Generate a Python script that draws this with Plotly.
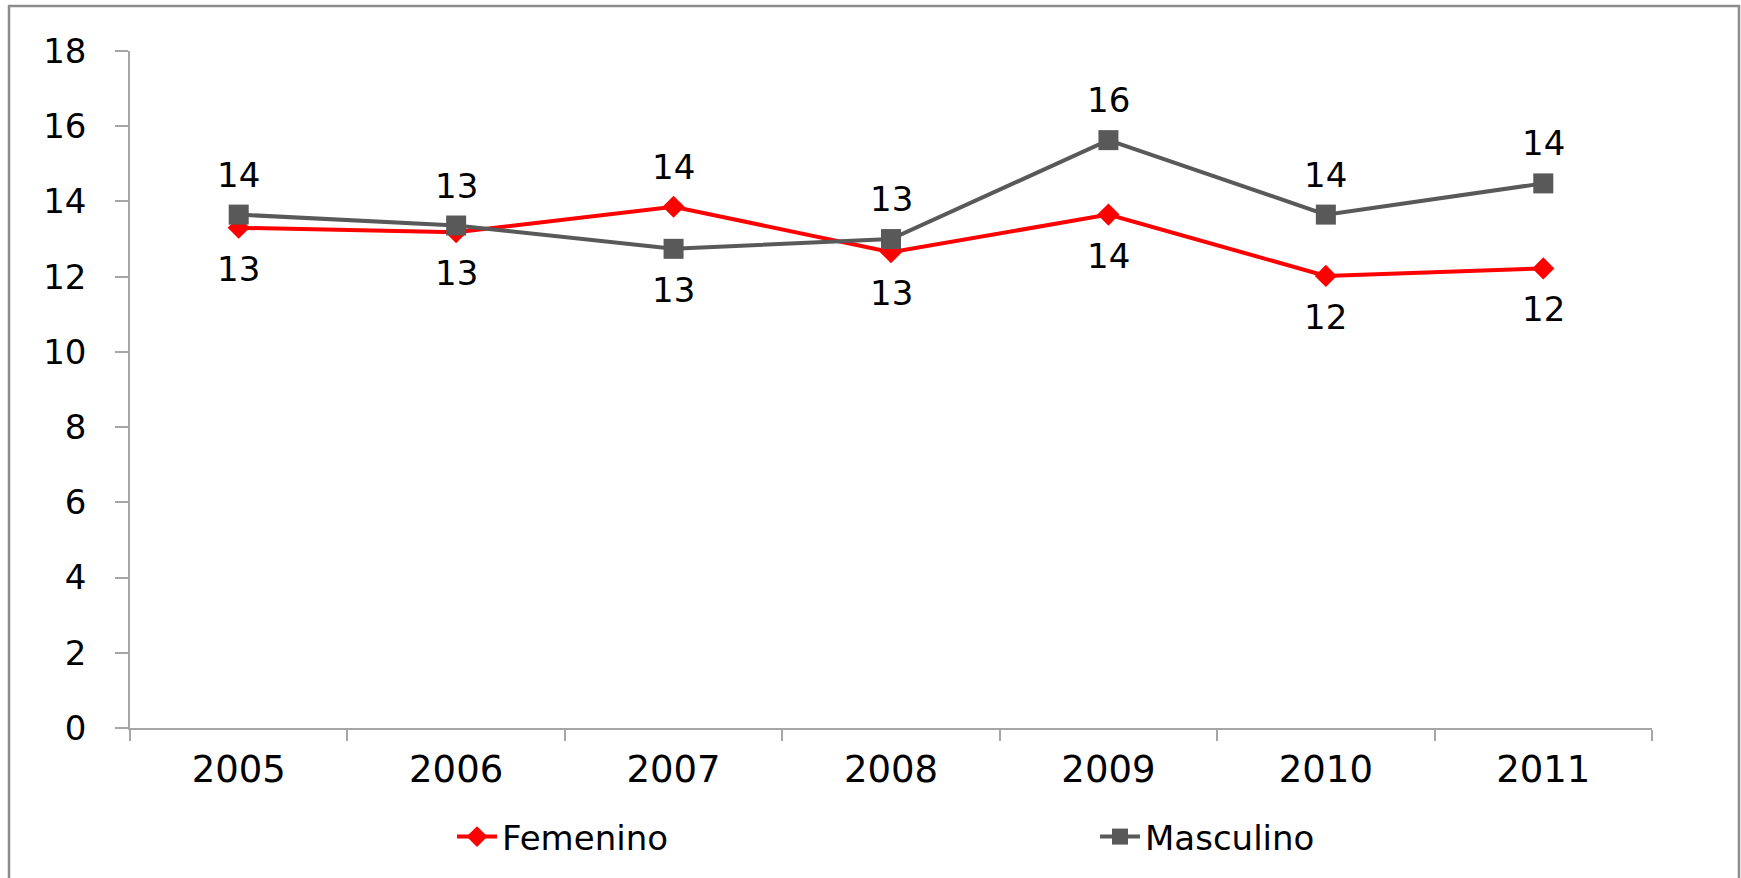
import plotly.graph_objects as go

years = ["2005", "2006", "2007", "2008", "2009", "2010", "2011"]
femenino = [13.30, 13.18, 13.86, 12.65, 13.65, 12.02, 12.22]
masculino = [13.65, 13.36, 12.74, 13.00, 15.63, 13.65, 14.48]
y_ticks = [0, 2, 4, 6, 8, 10, 12, 14, 16, 18]

W, H = 1741, 878
ML, MR, MT, MB = 130, 89, 51, 150
PW, PH = W - ML - MR, H - MT - MB

FONT = "DejaVu Sans, Liberation Sans, Arial, sans-serif"
RED = "#FF0000"
GRAY = "#595959"
AXIS = "#A6A6A6"

fig = go.Figure()
fig.add_trace(go.Scatter(
    x=years, y=femenino, name="Femenino", mode="lines+markers",
    line=dict(color=RED, width=4),
    marker=dict(symbol="diamond", size=17, color=RED),
))
fig.add_trace(go.Scatter(
    x=years, y=masculino, name="Masculino", mode="lines+markers",
    line=dict(color=GRAY, width=4),
    marker=dict(symbol="square", size=20, color=GRAY),
))

# data labels: the higher series of each year is labelled above, the lower below
for i, yr in enumerate(years):
    f, m = femenino[i], masculino[i]
    for v, other in ((f, m), (m, f)):
        up = v >= other
        fig.add_annotation(
            x=i, y=v, xref="x", yref="y", text=str(round(v)), showarrow=False,
            yshift=40 if up else -41,
            font=dict(family=FONT, size=34, color="#000000"),
        )

# outer chart border
fig.add_shape(
    type="rect", xref="paper", yref="paper",
    x0=(9 - ML) / PW, x1=(1739 - ML) / PW,
    y0=(H - MB - 900) / PH, y1=(H - MB - 6) / PH,
    line=dict(color="#8C8C8C", width=2.5), fillcolor="rgba(0,0,0,0)", layer="below",
)

fig.update_layout(
    width=W, height=H,
    margin=dict(l=ML, r=MR, t=MT, b=MB, autoexpand=False),
    paper_bgcolor="white", plot_bgcolor="white",
    font=dict(family=FONT, color="#000000"),
    showlegend=True,
    legend=dict(
        orientation="h", x=(452 - ML) / PW, y=(H - MB - 837) / PH,
        xanchor="left", yanchor="middle",
        font=dict(family=FONT, size=34, color="#000000"),
        entrywidth=588, bgcolor="rgba(0,0,0,0)",
        itemwidth=40,
    ),
    xaxis=dict(
        type="category", categoryorder="array", categoryarray=years,
        range=[-0.5, len(years) - 0.5], autorange=False,
        showgrid=False, showline=True, linecolor=AXIS, linewidth=1.5,
        ticks="outside", ticklen=11, tickcolor=AXIS, tickwidth=1.5, tickson="boundaries",
        tickfont=dict(family=FONT, size=37, color="#000000"),
        tickangle=0, ticklabelstandoff=8,
        zeroline=False,
    ),
    yaxis=dict(
        range=[0, 18], autorange=False, tickvals=y_ticks, showgrid=False, showline=True,
        linecolor=AXIS, linewidth=1.5, ticks="outside", ticklen=13, tickcolor=AXIS,
        tickwidth=1.5, tickfont=dict(family=FONT, size=34, color="#000000"),
        ticklabelstandoff=22, zeroline=False,
    ),
)

fig.write_html(
    "out.html",
    config={"displayModeBar": False},
    post_script="document.body.style.margin='0px'; document.body.style.overflow='hidden';",
)
